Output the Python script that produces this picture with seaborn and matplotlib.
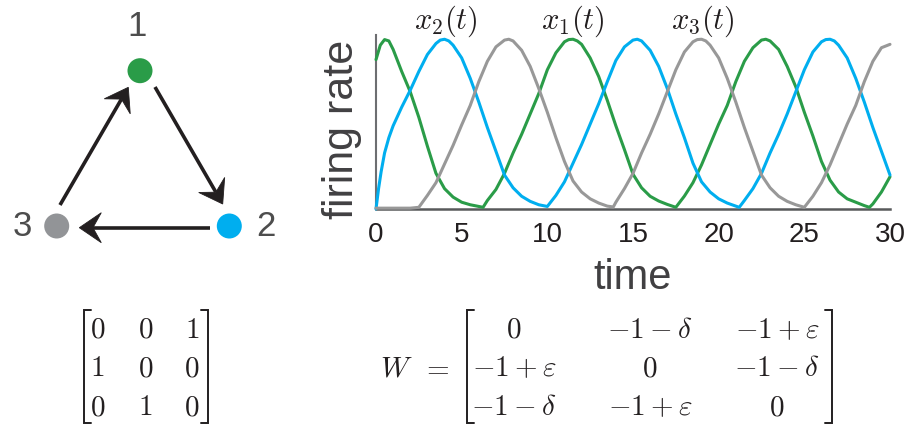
import matplotlib
matplotlib.use("Agg")
import numpy as np
import pandas as pd
import matplotlib.pyplot as plt
import seaborn as sns
from matplotlib.patches import Circle, Polygon

# ---------------- data ----------------
x1_time = [0.0, 0.25, 0.5, 0.75, 1.0, 1.5, 2.0, 2.5, 3.0, 3.5, 4.0, 4.5,
           5.0, 5.5, 6.0, 6.25, 6.5, 7.0, 7.5, 8.0, 8.5, 9.0, 9.5,
           10.0, 10.5, 11.0, 11.25, 11.5, 11.75, 12.0, 12.5, 13.0, 13.5, 14.0, 14.5,
           15.0, 15.5, 16.0, 16.5, 17.0, 17.5, 18.0, 18.5, 19.0, 19.5,
           20.0, 20.5, 21.0, 21.5, 22.0, 22.5, 22.75, 23.0, 23.5, 24.0, 24.5,
           25.0, 25.5, 26.0, 26.5, 27.0, 27.5, 28.0, 28.5, 28.8, 29.0, 29.5, 30.0]
x1_rate = [0.88, 0.965, 0.998, 0.99, 0.94, 0.81, 0.69, 0.54, 0.37, 0.21, 0.12, 0.07,
           0.04, 0.025, 0.015, 0.01, 0.05, 0.115, 0.21, 0.33, 0.44, 0.56, 0.68,
           0.82, 0.92, 0.985, 0.998, 1.00, 0.99, 0.97, 0.89, 0.78, 0.64, 0.49, 0.35,
           0.205, 0.125, 0.075, 0.047, 0.027, 0.01, 0.076, 0.155, 0.26, 0.38,
           0.50, 0.61, 0.75, 0.87, 0.95, 0.995, 1.00, 0.99, 0.94, 0.84, 0.72,
           0.57, 0.43, 0.28, 0.17, 0.10, 0.06, 0.04, 0.02, 0.01, 0.03, 0.10, 0.19]

x2_time = [0.0, 0.15, 0.3, 0.5, 0.75, 1.0, 1.5, 2.0, 2.5, 3.0, 3.5, 3.75, 4.0, 4.25, 4.5,
           5.0, 5.5, 6.0, 6.5, 7.0, 7.5, 8.0, 8.5, 9.0, 9.5,
           10.0, 10.5, 11.0, 11.5, 12.0, 12.5, 13.0, 13.5, 14.0, 14.5,
           15.0, 15.25, 15.5, 16.0, 16.5, 17.0, 17.5, 18.0, 18.5, 19.0, 19.5,
           20.0, 20.5, 21.0, 21.2, 21.5, 22.0, 22.5, 23.0, 23.5, 24.0, 24.5,
           25.0, 25.5, 26.0, 26.25, 26.5, 26.75, 27.0, 27.5, 28.0, 28.5, 29.0, 29.5, 30.0]
x2_rate = [0.00, 0.12, 0.22, 0.33, 0.42, 0.49, 0.60, 0.70, 0.81, 0.91, 0.975, 0.995, 1.00, 0.99, 0.965,
           0.89, 0.77, 0.63, 0.48, 0.34, 0.20, 0.125, 0.075, 0.045, 0.025,
           0.015, 0.08, 0.16, 0.27, 0.38, 0.50, 0.62, 0.75, 0.875, 0.955,
           0.995, 1.00, 0.99, 0.935, 0.84, 0.71, 0.56, 0.42, 0.27, 0.16, 0.10,
           0.06, 0.035, 0.017, 0.01, 0.05, 0.12, 0.21, 0.33, 0.44, 0.56, 0.69,
           0.82, 0.925, 0.985, 0.998, 1.00, 0.99, 0.965, 0.89, 0.77, 0.63, 0.48, 0.34, 0.20]

x3_time = [0.0, 0.5, 1.0, 1.5, 2.0, 2.5, 3.0, 3.5, 4.0, 4.5,
           5.0, 5.5, 6.0, 6.5, 7.0, 7.5, 7.75, 8.0, 8.5, 9.0, 9.5,
           10.0, 10.5, 11.0, 11.5, 12.0, 12.5, 13.0, 13.5, 13.85, 14.0, 14.5,
           15.0, 15.5, 16.0, 16.5, 17.0, 17.5, 18.0, 18.5, 18.75, 19.0, 19.25, 19.5,
           20.0, 20.5, 21.0, 21.5, 22.0, 22.5, 23.0, 23.5, 24.0, 24.5,
           25.0, 25.5, 26.0, 26.5, 27.0, 27.5, 28.0, 28.5, 29.0, 29.5, 30.0]
x3_rate = [0.005, 0.005, 0.005, 0.005, 0.005, 0.01, 0.08, 0.155, 0.265, 0.375,
           0.495, 0.61, 0.75, 0.87, 0.955, 0.995, 1.00, 0.99, 0.935, 0.84, 0.71,
           0.57, 0.42, 0.28, 0.165, 0.10, 0.06, 0.035, 0.017, 0.012, 0.04, 0.12,
           0.21, 0.33, 0.44, 0.56, 0.69, 0.82, 0.925, 0.985, 0.998, 1.00, 0.99, 0.965,
           0.89, 0.77, 0.63, 0.48, 0.34, 0.20, 0.125, 0.075, 0.045, 0.025,
           0.01, 0.075, 0.155, 0.26, 0.38, 0.50, 0.61, 0.75, 0.87, 0.95, 0.97]

unit_names = ["x1", "x2", "x3"]
unit_colors = ["#2a9c48", "#00aeef", "#989898"]
node_colors = ["#2a9c48", "#00aeef", "#929497"]
node_labels = ["1", "2", "3"]

curve_labels = [r"$x_2(t)$", r"$x_1(t)$", r"$x_3(t)$"]
curve_label_t = [4.1, 11.5, 19.1]

xtick_values = [0, 5, 10, 15, 20, 25, 30]

perm_matrix = [["0", "0", "1"],
               ["1", "0", "0"],
               ["0", "1", "0"]]
w_matrix = [[r"0", r"-1-\delta", r"-1+\varepsilon"],
            [r"-1+\varepsilon", r"0", r"-1-\delta"],
            [r"-1-\delta", r"-1+\varepsilon", r"0"]]

# ---------------- style ----------------
sns.set_style("white")
plt.rcParams["font.family"] = ["Liberation Sans", "DejaVu Sans"]
plt.rcParams["mathtext.fontset"] = "cm"

W_PX, H_PX = 913, 426
fig = plt.figure(figsize=(W_PX / 100, H_PX / 100), dpi=100)

# overlay axes in pixel coordinates (for diagram and matrices)
ov = fig.add_axes([0, 0, 1, 1])
ov.set_xlim(0, W_PX)
ov.set_ylim(H_PX, 0)
ov.axis("off")

# ---------------- line chart ----------------
ax_l, ax_r, ax_t, ax_b = 376, 890, 35, 209
ax = fig.add_axes([ax_l / W_PX, (H_PX - ax_b) / H_PX,
                   (ax_r - ax_l) / W_PX, (ax_b - ax_t) / H_PX])
ax.patch.set_alpha(0)

df = pd.DataFrame({
    "time": x1_time + x2_time + x3_time,
    "rate": x1_rate + x2_rate + x3_rate,
    "unit": [unit_names[0]] * len(x1_time) + [unit_names[1]] * len(x2_time)
            + [unit_names[2]] * len(x3_time),
})
sns.lineplot(data=df, x="time", y="rate", hue="unit", hue_order=unit_names,
             palette=dict(zip(unit_names, unit_colors)), linewidth=2.2,
             errorbar=None, legend=False, ax=ax)
for ln in ax.lines:
    ln.set_clip_on(False)
    ln.set_solid_capstyle("round")
    ln.set_solid_joinstyle("round")

ax.set_xlim(0, 30)
ax.set_ylim(0, 1.025)
ax.set_xticks(xtick_values)
ax.set_xticklabels([str(v) for v in xtick_values])
ax.set_yticks([])
ax.tick_params(axis="x", length=0, pad=9, labelsize=20, labelcolor="#231f20")
sns.despine(ax=ax)
ax.spines["left"].set_color("#6d6e71")
ax.spines["left"].set_linewidth(1.5)
ax.spines["bottom"].set_color("#58595b")
ax.spines["bottom"].set_linewidth(1.8)
ax.spines["left"].set_zorder(1)
ax.spines["bottom"].set_zorder(1)

ax.set_xlabel("time", fontsize=30, color="#414042")
ax.xaxis.label.set_va("baseline")
ax.xaxis.set_label_coords(0.5, (ax_b - 289) / (ax_b - ax_t))
ax.set_ylabel("firing rate", fontsize=31, color="#414042")
ax.yaxis.label.set_va("center")
ax.yaxis.label.set_ha("center")
ax.yaxis.set_label_coords((342 - ax_l) / (ax_r - ax_l), (ax_b - 129) / (ax_b - ax_t))

for lab, tt in zip(curve_labels, curve_label_t):
    ax.text(tt, (ax_b - 29) / (ax_b - ax_t), lab, transform=ax.get_xaxis_transform(),
            ha="center", va="baseline", fontsize=22, color="#231f20")

# ---------------- network diagram ----------------
node_pos = [(140, 70.7), (229.3, 226), (56.7, 226)]
label_pos = [(137.5, 27), (266, 226), (22, 226)]
for (x, y), c in zip(node_pos, node_colors):
    ov.add_patch(Circle((x, y), 12.5, facecolor=c, edgecolor="none"))
for (x, y), s in zip(label_pos, node_labels):
    ov.text(x, y, s, ha="center", va="center", fontsize=25, color="#4d4d4d")

arrow_color = "#231f20"


def arrow(p0, p1, L=22, Wd=15):
    p0 = np.asarray(p0, float)
    p1 = np.asarray(p1, float)
    u = (p1 - p0) / np.linalg.norm(p1 - p0)
    n = np.array([-u[1], u[0]])
    base = p1 - L * u
    notch = p1 - 0.62 * L * u
    ov.plot([p0[0], notch[0]], [p0[1], notch[1]], color=arrow_color, lw=2.6,
            solid_capstyle="butt")
    ov.add_patch(Polygon([p1, base + Wd * n, notch, base - Wd * n], closed=True,
                         facecolor=arrow_color, edgecolor=arrow_color, lw=0.6))


arrow((155, 87), (222.7, 204))
arrow((210, 227.7), (79.3, 227.7))
arrow((60, 205), (128.3, 87.3))

# ---------------- matrices ----------------
row_base = [338, 376.5, 415]
br_top, br_bot = 310, 423


def bracket(x, side):
    s = 7 if side == "left" else -7
    ov.plot([x + s, x, x, x + s], [br_top, br_top, br_bot, br_bot],
            color="#231f20", lw=1.4, solid_joinstyle="miter")


bracket(84, "left")
bracket(208, "right")
for r, row in enumerate(perm_matrix):
    for cx, s in zip([97.5, 145.5, 192], row):
        ov.text(cx, row_base[r], f"${s}$", ha="center", va="baseline",
                fontsize=21, color="#231f20")

ov.text(396.5, row_base[1], r"$W$", ha="center", va="baseline", fontsize=21, color="#231f20")
ov.text(435, row_base[1], r"$=$", ha="center", va="baseline", fontsize=21, color="#231f20")
bracket(467, "left")
bracket(832, "right")
for r, row in enumerate(w_matrix):
    for cx, s in zip([514, 650, 777], row):
        ov.text(cx, row_base[r], f"${s}$", ha="center", va="baseline",
                fontsize=21, color="#231f20")

fig.savefig("out.png", dpi=100)
